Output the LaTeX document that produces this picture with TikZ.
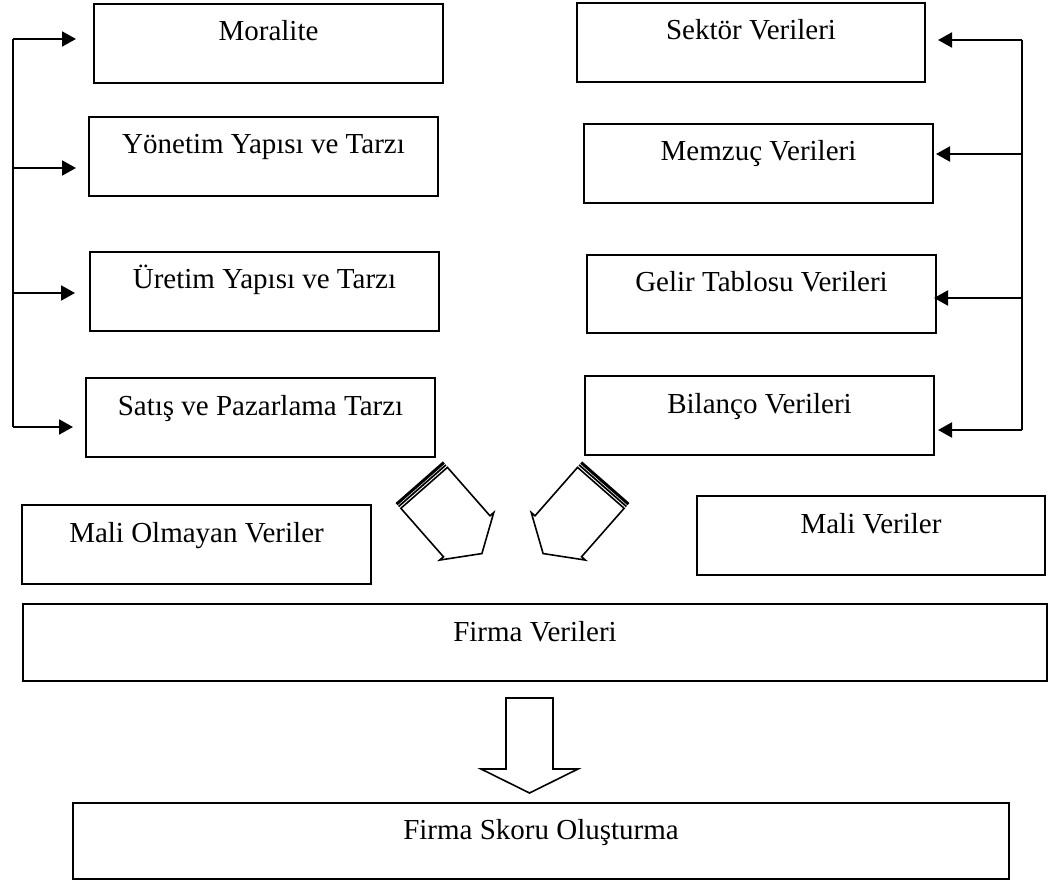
\documentclass[tikz,border=0pt]{standalone}
\usepackage{fontspec}
\setmainfont{Liberation Serif}
\usetikzlibrary{arrows.meta}

\begin{document}
\begin{tikzpicture}[x=0.5pt, y=-0.5pt, font=\fontsize{14.5}{17}\selectfont, line join=miter,
	>={Triangle[length=7pt,width=7.5pt]},
	box/.style={draw, line width=1pt, inner sep=0pt, outer sep=0pt, anchor=north west, text height=18.5pt, text depth=21pt},
	link/.style={->, line width=1pt},
	blockarrow/.style={draw, line width=0.8pt, fill=white}]
	\useasboundingbox (0,0) rectangle (1049,882);
	
	% sol sutun: mali olmayan veriler
	\node[box, minimum width=174.5pt] (mor) at (94,4) {Moralite};
	\node[box, minimum width=174.5pt] (yon) at (89,117) {Yönetim Yapısı ve Tarzı};
	\node[box, minimum width=174.5pt] (ure) at (90,252) {Üretim Yapısı ve Tarzı};
	\node[box, minimum width=174.5pt] (sat) at (86,378) {Satış ve Pazarlama Tarzı};
	
	% sag sutun: mali veriler
	\node[box, minimum width=174pt] (sek) at (577,3) {Sektör Verileri};
	\node[box, minimum width=174.5pt] (mem) at (584,124) {Memzuç Verileri};
	\node[box, minimum width=174.5pt, text depth=20.5pt] (gel) at (587,255) {Gelir Tablosu Verileri};
	\node[box, minimum width=174.5pt] (bil) at (585,376) {Bilanço Verileri};
	
	\node[box, minimum width=174.5pt] (malio) at (22,505) {Mali Olmayan Veriler};
	\node[box, minimum width=174pt] (mali) at (697,496) {Mali Veriler};
	\node[box, minimum width=512pt, text depth=20pt] (firma) at (23,604) {Firma Verileri};
	\node[box, minimum width=468pt, text height=18pt, text depth=20pt] (skor) at (73,803) {Firma Skoru Oluşturma};
	
	\path 
	(13,39) coordinate (l1)
	(13,168) coordinate (l2)
	(13,293) coordinate (l3)
	(13,427) coordinate (l4)
	(1022,40) coordinate (r1)
	(1022,154) coordinate (r2)
	(1022,298) coordinate (r3)
	(1022,430) coordinate (r4)
	;
	\draw[line width=1pt] (l1)--(l4);
	\draw[line width=1pt] (r1)--(r4);
	\foreach \c/\b/\g in {l1/mor/9,l2/yon/6.5,l3/ure/7.5,l4/sat/6.5}
	\draw[link, shorten >=\g pt] (\c) -- (\c -| \b.west);
	\foreach \c/\b/\g in {r1/sek/6.5,r2/mem/1.5,r3/gel/-1,r4/bil/2}
	\draw[link, shorten >=\g pt] (\c) -- (\c -| \b.east);
	
	% cizgili blok oklar
	\foreach \cx/\a in {419.2/-48.7,605.8/-131.3}{
		\begin{scope}[shift={(\cx,482.2)}, rotate=\a]
			\fill (0,-31.5) rectangle (3,31.5);
			\fill (3.8,-31.5) rectangle (5.5,31.5);
			\draw[blockarrow] (7.5,-31) -- (72,-31) -- (72,-36) -- (95,0) -- (72,36) -- (72,31) -- (7.5,31) -- cycle;
		\end{scope}
	}
	
	% asagi blok ok
	\draw[blockarrow] (506,698) -- (553,698) -- (553,769) -- (578,769) -- (529.5,793) -- (481,769) -- (506,769) -- cycle;
\end{tikzpicture}
\end{document}
